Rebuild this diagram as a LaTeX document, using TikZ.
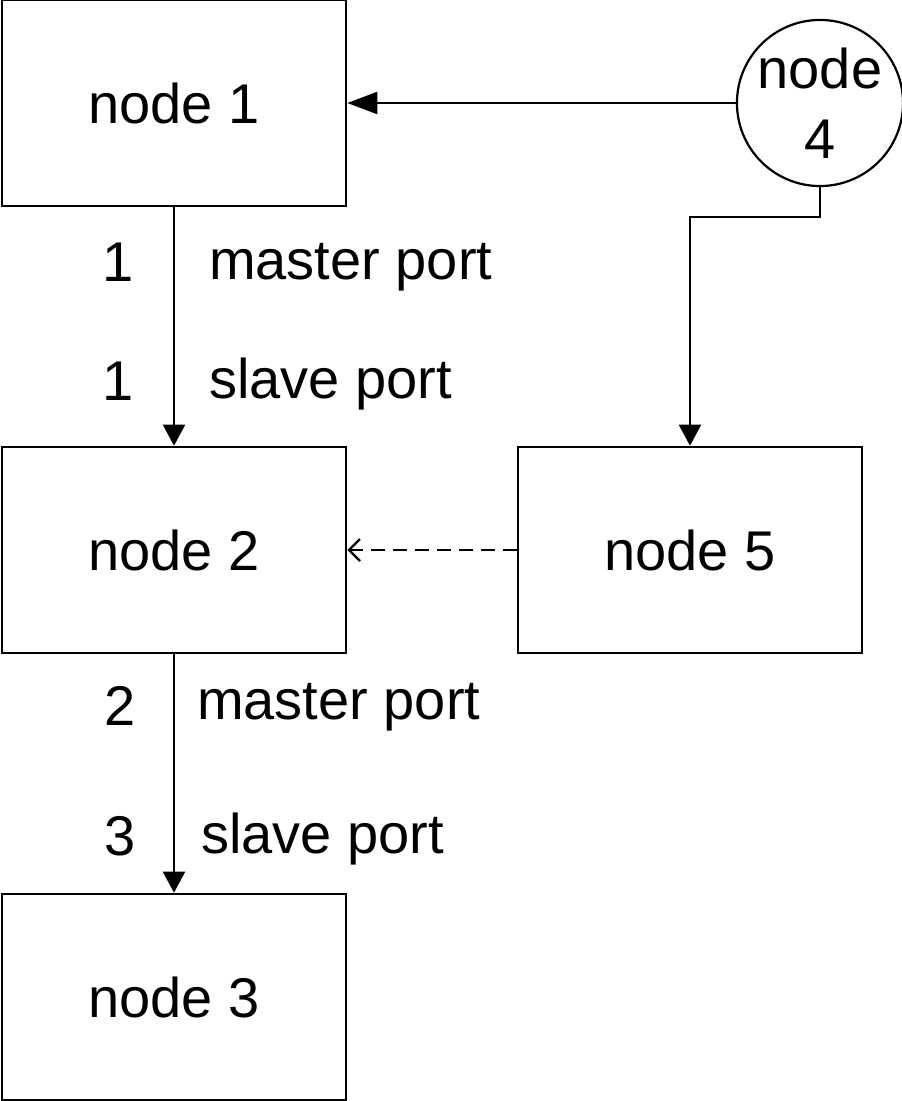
\documentclass[tikz,border=0pt]{standalone}
\usepackage{fontspec}
\setmainfont{Liberation Sans}
\usetikzlibrary{arrows.meta}
\begin{document}
\begin{tikzpicture}[x=1pt,y=-1pt,
  every node/.style={font=\fontsize{56}{70}\selectfont},
  box/.style={draw,line width=2.6pt,minimum width=344pt,minimum height=206pt,inner sep=0pt},
  roundnode/.style={draw,circle,line width=2.2pt,minimum size=162pt,inner sep=0pt,align=center},
  link/.style={line width=2.2pt,-{Triangle[length=21pt,width=22pt]}},
  longlink/.style={line width=2.2pt,-{Triangle[length=30pt,width=22pt]}},
  weaklink/.style={line width=2.2pt,dash pattern=on 14pt off 8pt,-{Straight Barb[length=11pt,width=22pt,line width=2.4pt]}},
  portlbl/.style={inner sep=0pt}]
\useasboundingbox (0,0) rectangle (902,1101);
% blocks
\node[box] (n1) at (174,103) {node 1};
\node[box] (n2) at (174,550) {node 2};
\node[box] (n3) at (174,997) {node 3};
\node[box] (n5) at (690,550) {node 5};
\node[roundnode] (n4) at (820,103) {node\\4};
% connectors
\draw[longlink] (n4.west) -- (n1.east |- n4.west);
\coordinate (bend) at (690,217);
\draw[link] (n4.south) |- (bend) -- (bend |- n5.north);
\draw[link] (n1.south) -- (n2.north);
\draw[link] (n2.south) -- (n3.north);
\draw[weaklink] (n5.west) -- (n2.east);
% port labels
\node[portlbl,anchor=base east] (p1m) at (134,281) {1};
\node[portlbl,anchor=base west] (t1m) at (209,279) {master port};
\node[portlbl,anchor=base east] (p1s) at (134,400) {1};
\node[portlbl,anchor=base west] (t1s) at (209,398) {slave port};
\node[portlbl,anchor=base east] (p2m) at (136,725) {2};
\node[portlbl,anchor=base west] (t2m) at (197,719) {master port};
\node[portlbl,anchor=base east] (p3s) at (136,855) {3};
\node[portlbl,anchor=base west] (t3s) at (201,853) {slave port};
\end{tikzpicture}
\end{document}
